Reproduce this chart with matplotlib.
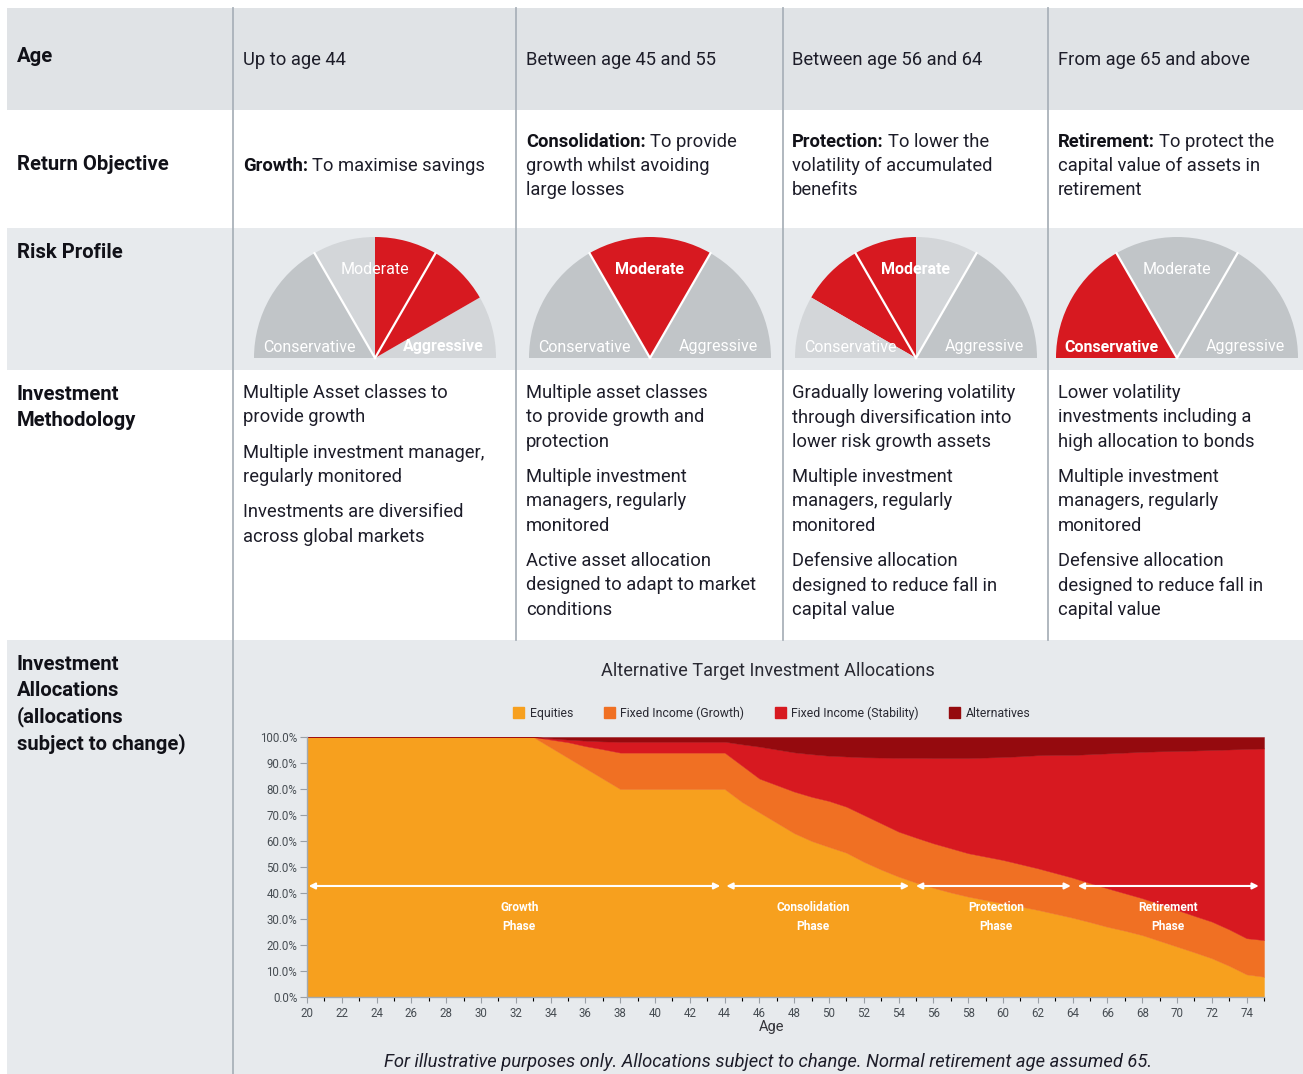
import matplotlib
matplotlib.use("Agg")
import matplotlib.pyplot as plt
from matplotlib.patches import Rectangle, Wedge, Patch
import numpy as np

plt.rcParams["font.family"] = ["Roboto", "DejaVu Sans"]

# ---- data ----
ages = list(range(20, 76))
equities = [100] * 14 + [96, 92, 88, 84, 80] + [80] * 6 + [
    75, 71, 67, 63, 60, 57.7, 55.5, 52, 49, 46.3, 44, 42, 40.2, 38.6, 37.3, 36,
    34.8, 33.5, 32, 30.5, 28.8, 27, 25.5, 23.8, 21.6, 19.4, 17.2, 14.9, 12, 8.7, 7.8]
fi_growth = [0] * 14 + [3, 6, 8.5, 11.3, 14] + [14] * 6 + [
    14, 13, 14.5, 16, 17, 17.7, 17.7, 18, 17.8, 17.3, 17.3, 17.1, 17, 16.7, 16.7, 16.7,
    16.3, 16, 15.7, 15.4, 15, 14.8, 14.4, 14.2, 14.2, 14.1, 14, 14.1, 14, 13.9, 14.1]
fi_stability = [0] * 14 + [0.5, 1, 2.1, 3, 4.2] + [4.2] * 6 + [
    8.2, 12.3, 13.7, 15.1, 16.4, 17.4, 19.3, 22.2, 25.3, 28.4, 30.7, 32.8, 34.7, 36.6,
    38.1, 39.6, 41.5, 43.5, 45.4, 47.2, 49.6, 51.9, 54.1, 56.3, 58.7, 61.1, 63.6, 66,
    69.2, 72.8, 73.7]
alternatives = [0] * 14 + [0.5, 1, 1.4, 1.7, 1.8] + [1.8] * 6 + [
    2.8, 3.7, 4.8, 5.9, 6.6, 7.2, 7.5, 7.8, 7.9, 8, 8, 8.1, 8.1, 8.1, 7.9, 7.7, 7.4,
    7, 6.9, 6.9, 6.6, 6.3, 6, 5.7, 5.5, 5.4, 5.2, 5, 4.8, 4.6, 4.4]
series_names = ["Equities", "Fixed Income (Growth)", "Fixed Income (Stability)", "Alternatives"]
series_colors = ["#f7a01e", "#f07023", "#d71920", "#950a0e"]

phases = ["Growth\nPhase", "Consolidation\nPhase", "Protection\nPhase", "Retirement\nPhase"]
phase_start = [20.1, 44.1, 55.0, 64.3]
phase_end = [43.75, 54.6, 63.9, 74.7]
phase_mid = [32.2, 49.1, 59.6, 69.5]

row_titles = ["Age", "Return Objective", "Risk Profile",
              "Investment\nMethodology",
              "Investment\nAllocations\n(allocations\nsubject to change)"]
age_ranges = ["Up to age 44", "Between age 45 and 55", "Between age 56 and 64",
              "From age 65 and above"]
objective_lead = ["Growth:", "Consolidation:", "Protection:", "Retirement:"]
objective_text = [["To maximise savings"],
                  ["To provide", "growth whilst avoiding", "large losses"],
                  ["To lower the", "volatility of accumulated", "benefits"],
                  ["To protect the", "capital value of assets in", "retirement"]]
methodology = [
    [["Multiple Asset classes to", "provide growth"],
     ["Multiple investment manager,", "regularly monitored"],
     ["Investments are diversified", "across global markets"]],
    [["Multiple asset classes", "to provide growth and", "protection"],
     ["Multiple investment", "managers, regularly", "monitored"],
     ["Active asset allocation", "designed to adapt to market", "conditions"]],
    [["Gradually lowering volatility", "through diversification into",
      "lower risk growth assets"],
     ["Multiple investment", "managers, regularly", "monitored"],
     ["Defensive allocation", "designed to reduce fall in", "capital value"]],
    [["Lower volatility", "investments including a", "high allocation to bonds"],
     ["Multiple investment", "managers, regularly", "monitored"],
     ["Defensive allocation", "designed to reduce fall in", "capital value"]],
]
risk_span = [(30, 90), (60, 120), (90, 150), (120, 180)]  # red part of gauge, degrees
risk_bold = ["Aggressive", "Moderate", "Moderate", "Conservative"]

# ---- layout ----
W, H = 1303, 1074
fig = plt.figure(figsize=(W / 100, H / 100), dpi=100)
bg = fig.add_axes([0, 0, 1, 1])
bg.set_xlim(0, W)
bg.set_ylim(H, 0)
bg.axis("off")
rend = fig.canvas.get_renderer()

TXT = "#1d1d29"
GRAY_ROW = "#e7eaed"
rows = [(8, 110, "#e0e3e6"), (110, 228, "white"), (228, 370, GRAY_ROW),
        (370, 640, "white"), (640, H, GRAY_ROW)]
for y0, y1, c in rows:
    bg.add_patch(Rectangle((7, y0), W - 7, y1 - y0, color=c, lw=0))
bg.plot([233, 233], [8, H], color="#aab2ba", lw=1.3)
for x in [516, 783, 1048]:
    bg.plot([x, x], [8, 640], color="#aab2ba", lw=1.3)

col_x = [243, 526, 792, 1058]
BODY = 13.2
HEAD = 14.6

# row titles
title_pos = [[57], [165], [253], [394, 420], [664, 690, 717, 744]]
for title, ys in zip(row_titles, title_pos):
    for line, y in zip(title.split("\n"), ys):
        bg.text(17, y, line, fontsize=HEAD, weight="bold", color="#111118", va="center")

# age row
for x, s in zip(col_x, age_ranges):
    bg.text(x, 60, s, fontsize=BODY, color=TXT, va="center")

# return objective
for x, lead, rest in zip(col_x, objective_lead, objective_text):
    y = 166 if len(rest) == 1 else 142
    t = bg.text(x, y, lead, fontsize=BODY, weight="bold", color="#111118", va="center")
    w = t.get_window_extent(rend).width
    bg.text(x + w + 4, y, rest[0], fontsize=BODY, color=TXT, va="center")
    for i, line in enumerate(rest[1:]):
        bg.text(x, y + 24 * (i + 1), line, fontsize=BODY, color=TXT, va="center")

# methodology
for x, paras in zip(col_x, methodology):
    y = 393
    for para in paras:
        for line in para:
            bg.text(x, y, line, fontsize=BODY, color=TXT, va="center")
            y += 24.5
        y += 10.5

# risk gauges
def sector(cx, cy, r, a, b, color):
    if b > a:
        bg.add_patch(Wedge((cx, cy), r, 360 - b, 360 - a, color=color, lw=0))

gauge_cx = [375, 650, 916, 1177]
GY, R = 358, 121
for cx, (ra, rb), bold in zip(gauge_cx, risk_span, risk_bold):
    for a in (0, 60, 120):
        b = a + 60
        lo, hi = max(a, ra), min(b, rb)
        partial = lo < hi and (lo > a or hi < b)
        grey = "#d3d6d9" if partial else "#c1c5c8"
        if lo < hi:
            sector(cx, GY, R, a, lo, grey)
            sector(cx, GY, R, lo, hi, "#d71920")
            sector(cx, GY, R, hi, b, grey)
        else:
            sector(cx, GY, R, a, b, grey)
    for ang in (60, 120):
        t = np.radians(ang)
        bg.plot([cx, cx + R * np.cos(t)], [GY, GY - R * np.sin(t)], color="white", lw=1.6)
    for lab, dx, y in [("Moderate", 0, 269), ("Conservative", -66, 347), ("Aggressive", 68, 347)]:
        bg.text(cx + dx, y, lab, fontsize=11.5, color="white", ha="center", va="center",
                weight="bold" if lab == bold else "normal")

# ---- allocation chart ----
ax = fig.add_axes([307 / W, 1 - 997 / H, (1264 - 307) / W, (997 - 737) / H])
ax.set_facecolor("none")
polys = ax.stackplot(ages, equities, fi_growth, fi_stability, alternatives,
                     colors=series_colors, lw=0)
for p in polys:
    p.set_edgecolor("face")
    p.set_linewidth(0.3)
ax.set_xlim(20, 75)
ax.set_ylim(0, 100)
ax.set_yticks(range(0, 101, 10))
ax.set_yticklabels([f"{v:.1f}%" for v in range(0, 101, 10)])
ax.set_xticks(range(20, 75, 2))
ax.set_xticks(range(20, 76), minor=True)
ax.tick_params(axis="both", labelsize=8.3, colors="#9aa0a6", labelcolor="#474d53")
ax.tick_params(axis="y", length=5, width=0.8, pad=2)
ax.tick_params(axis="x", which="major", length=4, width=0.8, pad=3)
ax.tick_params(axis="x", which="minor", length=3, width=0.8)
for s in ["top", "right"]:
    ax.spines[s].set_visible(False)
for s in ["left", "bottom"]:
    ax.spines[s].set_color("#a3a9ae")
    ax.spines[s].set_linewidth(1.0)

for name, x0, x1, xm in zip(phases, phase_start, phase_end, phase_mid):
    ax.annotate("", xy=(x1, 42.7), xytext=(x0, 42.7),
                arrowprops=dict(arrowstyle="<|-|>", color="white", lw=1.5,
                                mutation_scale=9, shrinkA=0, shrinkB=0))
    l1, l2 = name.split("\n")
    ax.text(xm, 34.5, l1, color="white", fontsize=8.6, weight="bold", ha="center", va="center")
    ax.text(xm, 27.0, l2, color="white", fontsize=8.6, weight="bold", ha="center", va="center")

bg.text(772, 1027, "Age", fontsize=10.5, color="#333339", ha="center", va="center")

t = bg.text(768, 671, "Alternative Target Investment Allocations", fontsize=13,
            color="#2a2a33", ha="center", va="center")
t.set_fontsize(13 * 333 / t.get_window_extent(rend).width)

handles = [Patch(color=c) for c in series_colors]
fig.legend(handles, series_names, loc="center", bbox_to_anchor=(772 / W, 1 - 713 / H),
           ncol=4, frameon=False, fontsize=8.8, handlelength=0.9, handleheight=0.9,
           handletextpad=0.45, columnspacing=2.5, labelcolor="#2a2a33")

t = bg.text(768, 1062, "For illustrative purposes only. Allocations subject to change. "
            "Normal retirement age assumed 65.", fontsize=13, style="italic",
            color="#1d1d29", ha="center", va="center")
t.set_fontsize(13 * 765 / t.get_window_extent(rend).width)

fig.savefig("out.png", dpi=100)
